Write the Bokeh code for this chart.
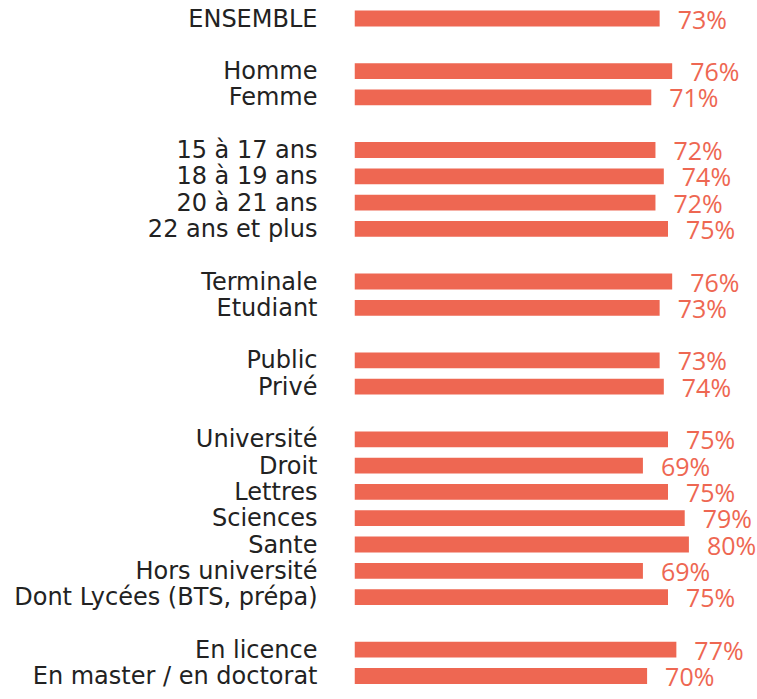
from bokeh.plotting import figure
from bokeh.models import Range1d, FixedTicker, ColumnDataSource
from bokeh.core.properties import value
from bokeh.embed import file_html
from bokeh.resources import INLINE

# ---- data ----
labels = ["ENSEMBLE",
          "Homme", "Femme",
          "15 à 17 ans", "18 à 19 ans", "20 à 21 ans", "22 ans et plus",
          "Terminale", "Etudiant",
          "Public", "Privé",
          "Université", "Droit", "Lettres", "Sciences", "Sante",
          "Hors université", "Dont Lycées (BTS, prépa)",
          "En licence", "En master / en doctorat"]
values = [73,
          76, 71,
          72, 74, 72, 75,
          76, 73,
          73, 74,
          75, 69, 75, 79, 80, 69, 75,
          77, 70]
groups = [0,
          1, 1,
          2, 2, 2, 2,
          3, 3,
          4, 4,
          5, 5, 5, 5, 5, 5, 5,
          6, 6]

# ---- layout ----
W, H = 757, 699
LEFT = 354          # pixel width of the label panel
PX_PER_PCT = 4.18
SLOT = 26.3
TOP_PAD = 18

ypos = [i + g for i, g in enumerate(groups)]
n_slots = ypos[-1]
bottom_val = n_slots + (H - TOP_PAD - n_slots * SLOT) / SLOT
top_val = -TOP_PAD / SLOT

BAR = "#EE6752"

p = figure(width=W, height=H, output_backend="svg", toolbar_location=None,
           x_range=Range1d(0, (W - LEFT) / PX_PER_PCT),
           y_range=Range1d(bottom_val, top_val),
           min_border_left=LEFT, min_border_right=0,
           min_border_top=0, min_border_bottom=0,
           x_axis_location=None)
p.outline_line_color = None
p.grid.visible = False
p.background_fill_color = "white"
p.border_fill_color = "white"

src = ColumnDataSource(dict(y=ypos, v=values,
                            t=[f"{v}%" for v in values]))

p.hbar(y="y", left=0, right="v", height=0.6, source=src,
       fill_color=BAR, line_color=None)

p.text(x="v", y="y", text="t", source=src, x_offset=18,
       text_baseline="middle", text_align="left",
       text_font=value("Open Sans"), text_font_size="25px",
       text_color=BAR)

ax = p.yaxis[0]
ax.ticker = FixedTicker(ticks=ypos)
ax.major_label_overrides = {y: lab for y, lab in zip(ypos, labels)}
ax.axis_line_color = None
ax.major_tick_line_color = None
ax.minor_tick_line_color = None
ax.major_tick_out = 0
ax.major_tick_in = 0
ax.major_label_standoff = 37
ax.major_label_text_font = "DejaVu Sans"
ax.major_label_text_font_size = "24px"
ax.major_label_text_color = "#222222"

open("out.html", "w").write(file_html(p, INLINE))
